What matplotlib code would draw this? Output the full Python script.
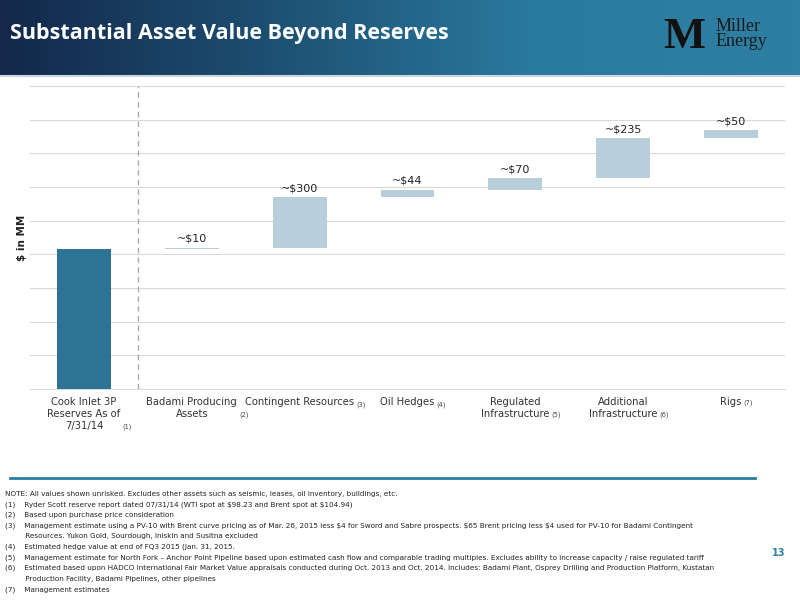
import numpy as np
import matplotlib
matplotlib.use("Agg")
import matplotlib.pyplot as plt
from matplotlib.colors import LinearSegmentedColormap

plt.rcParams["text.parse_math"] = False
narrow = "DejaVu Sans"

categories = ["Cook Inlet 3P\nReserves As of\n7/31/14", "Badami Producing\nAssets", "Contingent Resources",
              "Oil Hedges", "Regulated\nInfrastructure", "Additional\nInfrastructure", "Rigs"]
notes = ["(1)", "(2)", "(3)", "(4)", "(5)", "(6)", "(7)"]
values = [830, 10, 300, 44, 70, 235, 50]
labels = ["", "~$10", "~$300", "~$44", "~$70", "~$235", "~$50"]
footnotes = [
    "NOTE: All values shown unrisked. Excludes other assets such as seismic, leases, oil inventory, buildings, etc.",
    "(1)    Ryder Scott reserve report dated 07/31/14 (WTI spot at $98.23 and Brent spot at $104.94)",
    "(2)    Based upon purchase price consideration",
    "(3)    Management estimate using a PV-10 with Brent curve pricing as of Mar. 26, 2015 less $4 for Sword and Sabre prospects. $65 Brent pricing less $4 used for PV-10 for Badami Contingent",
    "         Resources. Yukon Gold, Sourdough, Iniskin and Susitna excluded",
    "(4)    Estimated hedge value at end of FQ3 2015 (Jan. 31, 2015.",
    "(5)    Management estimate for North Fork \u2013 Anchor Point Pipeline based upon estimated cash flow and comparable trading multiples. Excludes ability to increase capacity / raise regulated tariff",
    "(6)    Estimated based upon HADCO International Fair Market Value appraisals conducted during Oct. 2013 and Oct. 2014. Includes: Badami Plant, Osprey Drilling and Production Platform, Kustatan",
    "         Production Facility, Badami Pipelines, other pipelines",
    "(7)    Management estimates",
]

fig = plt.figure(figsize=(8, 6), dpi=100)
fig.patch.set_facecolor("white")

hax = fig.add_axes([0, 1 - 75/600, 1, 75/600])
cmap = LinearSegmentedColormap.from_list("h", ["#13284a", "#1d4f72", "#2a7a9e", "#2e80a3"])
hax.imshow(np.linspace(0, 1, 256)[None, :], aspect="auto", cmap=cmap, extent=[0, 1, 0, 1])
hax.set_axis_off()
hax.text(0.012, 0.55, "Substantial Asset Value Beyond Reserves", color="white", fontsize=15.5,
         fontweight="bold", va="center", ha="left", family="Open Sans")
hax.text(0.895, 0.55, "Miller\nEnergy", color="#1a1a1a", fontsize=13, va="center", ha="left",
         family="Liberation Serif", linespacing=0.85)
hax.text(0.855, 0.5, "M", color="#111111", fontsize=32, fontweight="bold", va="center", ha="center",
         family="Liberation Serif")
fig.add_artist(plt.Line2D([0, 1], [1 - 76/600, 1 - 76/600], color="#c9d6df", lw=1.5))

ax = fig.add_axes([30/800, (600-389)/600, 755/800, (389-86)/600])
x = np.arange(len(values))
bottoms = [0]
for v in values[:-1]:
    bottoms.append(bottoms[-1] + v)
colors = ["#2c7394"] + ["#b8cfdb"] * (len(values) - 1)
ax.bar(x, values, bottom=bottoms, width=0.5, color=colors, zorder=3)
for i, (b, v, l) in enumerate(zip(bottoms, values, labels)):
    if l:
        ax.text(x[i], b + v + 22, l, ha="center", va="bottom", fontsize=8, color="#222222", family=narrow)
ax.set_xlim(-0.5, 6.5)
ax.set_ylim(0, 1800)
ax.set_yticks(np.arange(0, 1801, 200))
ax.yaxis.grid(True, color="#d9d9d9", lw=0.8, zorder=0)
ax.tick_params(axis="y", length=0, labelleft=False)
ax.tick_params(axis="x", length=0, labelsize=7.2, colors="#333333", pad=6)
ax.set_xticks(x)
ax.set_xticklabels(categories, family=narrow)
for s in ["top", "right", "left"]:
    ax.spines[s].set_visible(False)
ax.spines["bottom"].set_color("#d9d9d9")
ax.axvline(0.5, color="#aaaaaa", ls=(0, (4, 3)), lw=1, zorder=2)
ax.set_ylabel("$ in MM", fontsize=7.5, fontweight="bold", color="#222222", labelpad=2, family=narrow)

fig.canvas.draw()
r = fig.canvas.get_renderer()
inv = fig.transFigure.inverted()
for i, (lab, n) in enumerate(zip(ax.get_xticklabels(), notes)):
    bb = lab.get_window_extent(r)
    sup = i in (2, 3)
    px = bb.x1 + 2
    py = bb.y1 - 4 if sup else bb.y0 + 1
    fx, fy = inv.transform((px, py))
    fig.text(fx, fy, n, fontsize=4.8, color="#444444", ha="left", va="top" if sup else "bottom",
             family=narrow)

fig.add_artist(plt.Line2D([10/800, 755/800], [1 - 478/600, 1 - 478/600], color="#2b7ea1", lw=2))
y0 = 1 - 494/600
for i, t in enumerate(footnotes):
    fig.text(5/800, y0 - i * 10.6/600, t, fontsize=5.2, color="#222222", va="center", family=narrow)
fig.text(785/800, 1 - 556/600, "13", fontsize=7, fontweight="bold", color="#2b7ea1", ha="right")
fig.savefig("out.png", dpi=100)
